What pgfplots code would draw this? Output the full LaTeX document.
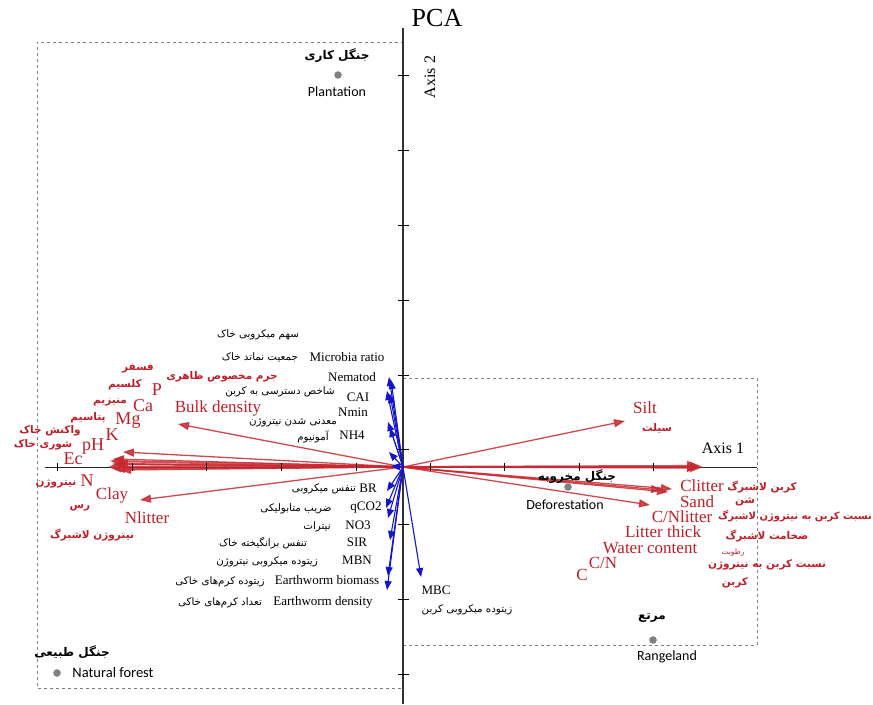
\documentclass[border=0pt]{standalone}
\usepackage{fontspec}
\usepackage{pgfplots}
\pgfplotsset{compat=1.18}
\usetikzlibrary{arrows.meta}
\setmainfont{Liberation Serif}
\newfontfamily\calfont{Carlito}
\newfontfamily\arabicfont[Script=Arabic]{DejaVu Sans}
\TeXXeTstate=1
\newcommand\fa[1]{{\arabicfont\beginR #1\endR}}
\newcommand\fs[1]{\fontsize{#1}{#1}\selectfont}
\definecolor{lblred}{RGB}{190,30,40}
\definecolor{arrred}{RGB}{200,40,48}
\definecolor{arrblue}{RGB}{20,20,205}
\definecolor{dotgray}{RGB}{128,128,128}
\newcommand\rarr[2]{\addplot[arrred, opacity=0.85, line width=1.3pt, -{Triangle[length=11pt,width=8pt]}] coordinates {(403,467) (#1,#2)};}
\newcommand\rarrb[2]{\addplot[arrred, opacity=0.8, line width=2.2pt, -{Triangle[length=13pt,width=10pt]}] coordinates {(403,467) (#1,#2)};}
\newcommand\barr[2]{\addplot[arrblue, line width=1.1pt, -{Triangle[length=9pt,width=7pt]}] coordinates {(403,467) (#1,#2)};}
\begin{document}
\begin{tikzpicture}[every node/.style={inner sep=0.5pt}]
\begin{axis}[width=873pt,height=704pt,scale only axis,
  xmin=0,xmax=873,ymin=0,ymax=704,y dir=reverse,
  hide axis, clip=false]
% frame corners (invisible)
\addplot[draw=none] coordinates {(0,0) (873,704)};
% dashed boxes
\addplot[gray, dashed, line width=0.7pt] coordinates {(404,42) (37,42) (37,688) (404,688)};
\addplot[gray, dashed, line width=0.7pt] coordinates {(403,378) (757,378) (757,645) (403,645)};
% axes
\addplot[black!85, line width=1pt] coordinates {(45,467) (757,467)};
\addplot[black!80, line width=1.3pt] coordinates {(403,28) (403,704)};
\addplot[only marks, mark=|, mark size=4pt, mark options={line width=0.9pt}, black] coordinates {(57,467)(132,467)(206,467)(281,467)(356,467)(430,467)(504,467)(579,467)(653,467)};
\addplot[only marks, mark=-, mark size=5.5pt, mark options={line width=0.9pt}, black] coordinates {(403,75)(403,150)(403,225)(403,300)(403,375)(403,449)(403,524)(403,599)(403,674)};
% red arrows, left
\rarr{178}{424}
\rarr{123}{452}
\rarr{140}{500}
\rarrb{110}{461}
\rarrb{112}{464}
\rarrb{108}{467}
\rarr{114}{469}
\rarr{117}{464}
\rarr{120}{470}
\rarr{113}{459}
% red arrows, right
\rarr{625}{421}
\rarrb{703}{467}
\rarrb{700}{466}
\rarr{698}{468}
\rarr{672}{489}
\rarr{668}{492}
\rarr{662}{490}
\rarr{650}{505}
% blue arrows
\barr{389}{377}
\barr{391}{380}
\barr{387}{391}
\barr{390}{394}
\barr{388}{422}
\barr{390}{428}
\barr{389}{452}
\barr{391}{466}
\barr{387}{491}
\barr{386}{508}
\barr{388}{518}
\barr{390}{540}
\barr{388}{576}
\barr{387}{590}
\barr{421}{577}
% site points
\addplot[only marks, mark=*, mark size=3.5pt, dotgray] coordinates {(338,75)(568,487)(653,640)(57,673)};
% title and axis names
\node[font=\fs{26}] at (axis cs:437,18) {PCA};
\node[font=\fs{16}, rotate=90] at (axis cs:430,77) {Axis 2};
\node[font=\fs{16}] at (axis cs:723,448) {Axis 1};
% sites
\node[font=\fs{12}\bfseries] at (axis cs:337,56) {\fa{جنگل کاری}};
\node[font=\calfont\fs{14}] at (axis cs:337,92) {Plantation};
\node[font=\fs{12}\bfseries] at (axis cs:577,476) {\fa{جنگل مخروبه}};
\node[font=\calfont\fs{14}] at (axis cs:565,505) {Deforestation};
\node[font=\fs{12}\bfseries] at (axis cs:652,618) {\fa{مرتع}};
\node[font=\calfont\fs{14}] at (axis cs:667,657) {Rangeland};
\node[font=\fs{12}\bfseries] at (axis cs:72,652) {\fa{جنگل طبیعی}};
\node[font=\calfont\fs{14.5}] at (axis cs:113,673) {Natural forest};
% left red labels
\node[text=lblred, font=\fs{10.5}\bfseries] at (axis cs:138,368) {\fa{فسفر}};
\node[text=lblred, font=\fs{10.5}\bfseries] at (axis cs:125,385) {\fa{کلسیم}};
\node[text=lblred, font=\fs{18}] at (axis cs:157,390) {P};
\node[text=lblred, font=\fs{10.5}\bfseries] at (axis cs:110,402) {\fa{منیزیم}};
\node[text=lblred, font=\fs{18}] at (axis cs:143,406) {Ca};
\node[text=lblred, font=\fs{10.5}\bfseries] at (axis cs:88,418) {\fa{پتاسیم}};
\node[text=lblred, font=\fs{18}] at (axis cs:128,421) {Mg};
\node[text=lblred, font=\fs{10.5}\bfseries] at (axis cs:50,431) {\fa{واکنش خاک}};
\node[text=lblred, font=\fs{18}] at (axis cs:112,435) {K};
\node[text=lblred, font=\fs{10.5}\bfseries] at (axis cs:43,445) {\fa{شوری خاک}};
\node[text=lblred, font=\fs{18}] at (axis cs:93,447) {pH};
\node[text=lblred, font=\fs{18}] at (axis cs:73,459) {Ec};
\node[text=lblred, font=\fs{18}] at (axis cs:87,481) {N};
\node[text=lblred, font=\fs{10.5}\bfseries] at (axis cs:56,484) {\fa{نیتروژن}};
\node[text=lblred, font=\fs{17}] at (axis cs:112,495) {Clay};
\node[text=lblred, font=\fs{10.5}\bfseries] at (axis cs:80,508) {\fa{رس}};
\node[text=lblred, font=\fs{17}] at (axis cs:147,518) {Nlitter};
\node[text=lblred, font=\fs{10.5}\bfseries] at (axis cs:92,535) {\fa{نیتروژن لاشبرگ}};
\node[text=lblred, font=\fs{10.5}\bfseries] at (axis cs:222,377) {\fa{جرم مخصوص ظاهری}};
\node[text=lblred, font=\fs{17}] at (axis cs:218,408) {Bulk density};
% black labels, upper
\node[font=\fs{10.3}] at (axis cs:258,335) {\fa{سهم میکروبی خاک}};
\node[font=\fs{10.3}] at (axis cs:260,357) {\fa{جمعیت نماتد خاک}};
\node[font=\fs{13}] at (axis cs:347,357) {Microbia ratio};
\node[font=\fs{13}] at (axis cs:352,377) {Nematod};
\node[font=\fs{10.3}] at (axis cs:280,392) {\fa{شاخص دسترسی به کربن}};
\node[font=\fs{13}] at (axis cs:358,397) {CAI};
\node[font=\fs{13}] at (axis cs:353,412) {Nmin};
\node[font=\fs{10.3}] at (axis cs:293,423) {\fa{معدنی شدن نیتروژن}};
\node[font=\fs{13}] at (axis cs:352,435) {NH4};
\node[font=\fs{10.3}] at (axis cs:313,437) {\fa{آمونیوم}};
% black labels, lower
\node[font=\fs{13}] at (axis cs:368,488) {BR};
\node[font=\fs{10.3}] at (axis cs:324,489) {\fa{تنفس میکروبی}};
\node[font=\fs{13}] at (axis cs:366,508) {qCO2};
\node[font=\fs{10.3}] at (axis cs:296,509) {\fa{ضریب متابولیکی}};
\node[font=\fs{13}] at (axis cs:358,525) {NO3};
\node[font=\fs{10.3}] at (axis cs:317,527) {\fa{نیترات}};
\node[font=\fs{13}] at (axis cs:357,542) {SIR};
\node[font=\fs{10.3}] at (axis cs:263,543) {\fa{تنفس برانگیخته خاک}};
\node[font=\fs{13}] at (axis cs:357,560) {MBN};
\node[font=\fs{10.3}] at (axis cs:267,562) {\fa{زیتوده میکروبی نیتروژن}};
\node[font=\fs{13}] at (axis cs:327,580) {Earthworm biomass};
\node[font=\fs{10.3}] at (axis cs:220,582) {\fa{زیتوده کرم^^^^200cهای خاکی}};
\node[font=\fs{13}] at (axis cs:323,602) {Earthworm density};
\node[font=\fs{10.3}] at (axis cs:220,603) {\fa{تعداد کرم^^^^200cهای خاکی}};
\node[font=\fs{13}] at (axis cs:436,590) {MBC};
\node[font=\fs{10.3}] at (axis cs:467,610) {\fa{زیتوده میکروبی کربن}};
% right red labels
\node[text=lblred, font=\fs{17}] at (axis cs:645,408) {Silt};
\node[text=lblred, font=\fs{10.5}\bfseries] at (axis cs:657,428) {\fa{سیلت}};
\node[text=lblred, font=\fs{17}] at (axis cs:702,486) {Clitter};
\node[text=lblred, font=\fs{10.5}\bfseries] at (axis cs:762,487) {\fa{کربن لاشبرگ}};
\node[text=lblred, font=\fs{17}] at (axis cs:697,502) {Sand};
\node[text=lblred, font=\fs{10.5}\bfseries] at (axis cs:745,502) {\fa{شن}};
\node[text=lblred, font=\fs{17}] at (axis cs:682,517) {C/Nlitter};
\node[text=lblred, font=\fs{10}\bfseries] at (axis cs:795,516) {\fa{نسبت کربن به نیتروژن لاشبرگ}};
\node[text=lblred, font=\fs{17}] at (axis cs:663,532) {Litter thick};
\node[text=lblred, font=\fs{10.5}\bfseries] at (axis cs:767,536) {\fa{ضخامت لاشبرگ}};
\node[text=lblred, font=\fs{17}] at (axis cs:650,548) {Water content};
\node[text=lblred, font=\fs{7.5}] at (axis cs:733,553) {\fa{رطوبت}};
\node[text=lblred, font=\fs{17}] at (axis cs:603,563) {C/N};
\node[text=lblred, font=\fs{17}] at (axis cs:582,575) {C};
\node[text=lblred, font=\fs{10.5}\bfseries] at (axis cs:767,565) {\fa{نسبت کربن به نیتروژن}};
\node[text=lblred, font=\fs{10.5}\bfseries] at (axis cs:735,583) {\fa{کربن}};
\end{axis}
\end{tikzpicture}
\end{document}
